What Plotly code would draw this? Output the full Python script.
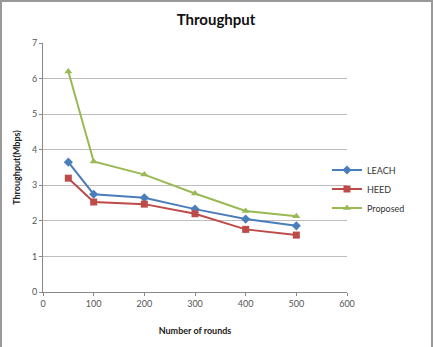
import plotly.graph_objects as go

rounds = [50, 100, 200, 300, 400, 500]
leach = [3.65, 2.75, 2.65, 2.33, 2.05, 1.86]
heed = [3.2, 2.53, 2.47, 2.2, 1.76, 1.6]
proposed = [6.2, 3.67, 3.3, 2.77, 2.28, 2.13]

series = [
    ("LEACH", leach, "#4A7EBB", "diamond", 7),
    ("HEED", heed, "#BE4B48", "square", 7),
    ("Proposed", proposed, "#98B954", "triangle-up", 7),
]

fig = go.Figure()
for name, vals, color, sym, sz in series:
    fig.add_trace(go.Scatter(
        x=rounds, y=vals, name=name, mode="lines+markers",
        line=dict(color=color, width=2),
        marker=dict(symbol=sym, size=sz, color=color),
    ))

W, H = 433, 347
L, R, T, B = 43, 86, 43, 55
pw, ph = W - L - R, H - T - B

fig.update_layout(
    width=W, height=H,
    margin=dict(l=L, r=R, t=T, b=B, autoexpand=False),
    paper_bgcolor="white", plot_bgcolor="white",
    font=dict(family="Lato, Open Sans, sans-serif", size=9, color="#555"),
    title=dict(text="<b>Throughput</b>", x=216 / W, xanchor="center", y=1 - 20 / H, yanchor="middle",
               font=dict(size=15, color="#111")),
    showlegend=True,
    legend=dict(x=(327 - L) / pw, y=1 - (189 - T) / ph, xanchor="left", yanchor="middle",
                font=dict(size=9, color="#333"), bgcolor="rgba(0,0,0,0)",
                itemwidth=30, tracegroupgap=0),
    xaxis=dict(range=[0, 600], dtick=100, showgrid=False, showline=True, automargin=False,
               linecolor="#888", linewidth=1, ticks="outside", ticklen=3, tickcolor="#888",
               zeroline=False,
               title=dict(text="<b>Number of rounds</b>", font=dict(size=9, color="#222"), standoff=19)),
    yaxis=dict(range=[0, 7], dtick=1, showgrid=True, gridcolor="#bdbdbd", gridwidth=1, automargin=False,
               showline=True, linecolor="#888", linewidth=1, ticks="outside", ticklen=3,
               tickcolor="#888", zeroline=False,
               title=dict(text="<b>Throughput(Mbps)</b>", font=dict(size=9, color="#222"), standoff=9)),
    shapes=[dict(type="rect", xref="paper", yref="paper",
                 x0=(1 - L) / pw, y0=(B - H + 1) / ph, x1=(W - L - 1) / pw, y1=(H - B - 1) / ph,
                 line=dict(color="#999", width=2), fillcolor="rgba(0,0,0,0)")],
)

fig.write_html("out.html", config={"displayModeBar": False},
               post_script="document.body.style.margin='0';document.body.style.overflow='hidden';")
